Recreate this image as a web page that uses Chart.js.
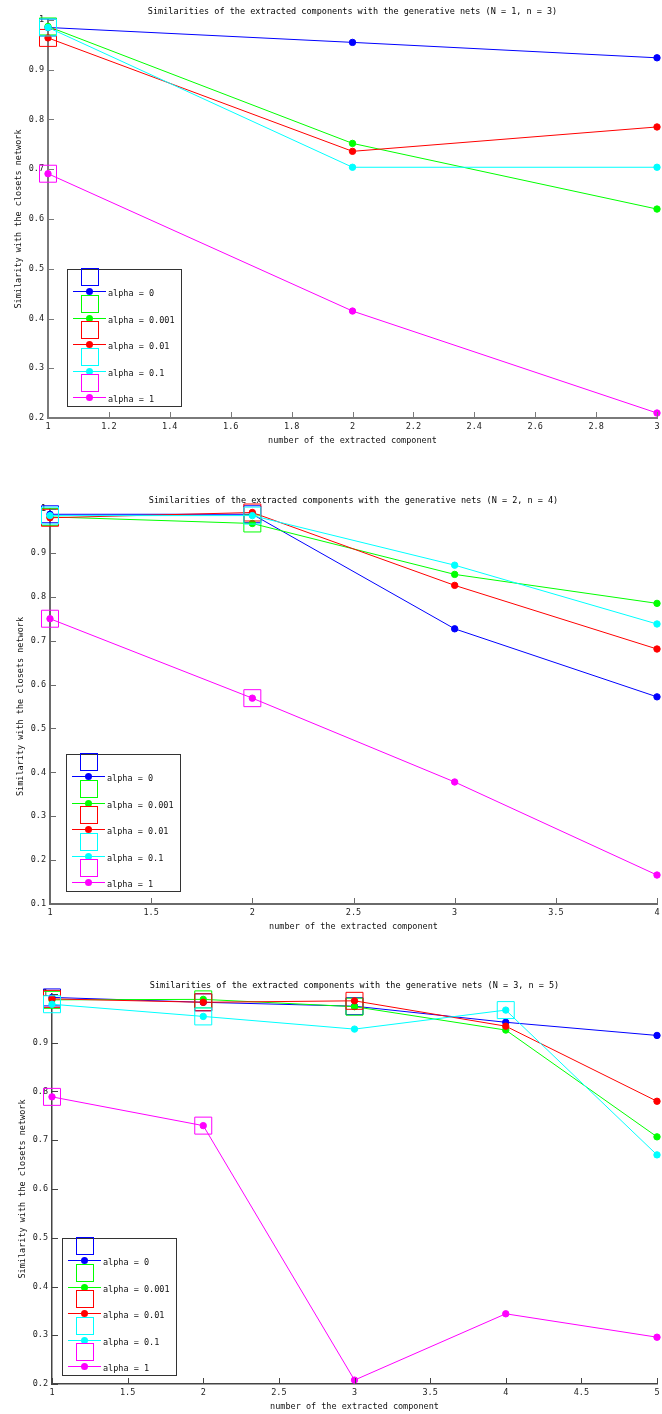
<!DOCTYPE html>
<html>
<head>
<meta charset="utf-8">
<title>Similarities of the extracted components</title>
<script src="https://cdn.jsdelivr.net/npm/chart.js@4.4.0/dist/chart.umd.min.js"></script>
<style>
  html, body { margin: 0; padding: 0; background: #fff; }
  #page { position: relative; width: 662px; height: 1414px; overflow: hidden; }
  .plot { position: absolute; left: 0; width: 670px; }
</style>
</head>
<body>
<div id="page">
  <div class="plot" style="top:0;height:448px"><canvas id="chart1"></canvas></div>
  <div class="plot" style="top:489px;height:445px"><canvas id="chart2"></canvas></div>
  <div class="plot" style="top:974px;height:440px"><canvas id="chart3"></canvas></div>
</div>
<script>
const alphaLabels = ['alpha = 0', 'alpha = 0.001', 'alpha = 0.01', 'alpha = 0.1', 'alpha = 1'];
const alphaColors = ['#0000ff', '#00ff00', '#ff0000', '#00ffff', '#ff00ff'];

// N = 1, n = 3  (one row per alpha)
const comps1 = [1, 2, 3];
const sim1 = [
  [0.985, 0.955, 0.924],
  [0.987, 0.752, 0.620],
  [0.964, 0.736, 0.785],
  [0.985, 0.704, 0.704],
  [0.691, 0.415, 0.210]
];
const picked1 = [[1], [1], [1], [1], [1]];
const xRange1 = [1, 3, 0.2];
const yRange1 = [0.2, 1, 0.1];

// N = 2, n = 4
const comps2 = [1, 2, 3, 4];
const sim2 = [
  [0.988, 0.988, 0.727, 0.572],
  [0.982, 0.967, 0.851, 0.785],
  [0.980, 0.992, 0.826, 0.681],
  [0.985, 0.985, 0.872, 0.738],
  [0.750, 0.569, 0.378, 0.166]
];
const picked2 = [[1, 2], [1, 2], [1, 2], [1, 2], [1, 2]];
const xRange2 = [1, 4, 0.5];
const yRange2 = [0.1, 1, 0.1];

// N = 3, n = 5
const comps3 = [1, 2, 3, 4, 5];
const sim3 = [
  [0.993, 0.983, 0.975, 0.942, 0.915],
  [0.988, 0.989, 0.974, 0.926, 0.707],
  [0.990, 0.983, 0.986, 0.934, 0.780],
  [0.979, 0.954, 0.928, 0.967, 0.670],
  [0.789, 0.730, 0.208, 0.344, 0.296]
];
const picked3 = [[1, 2, 3], [1, 2, 3], [1, 2, 3], [1, 2, 4], [1, 2]];
const xRange3 = [1, 5, 0.5];
const yRange3 = [0.2, 1, 0.1];

const FONT = 'DejaVu Sans Mono';

function fmt(v) {
  return String(Math.round(v * 100) / 100);
}

// matlab style ticks pointing into the plot
function inwardTicks(len, color) {
  return {
    id: 'inwardTicks',
    afterDraw(chart) {
      const { ctx, chartArea: a, scales: { x, y } } = chart;
      ctx.save();
      ctx.strokeStyle = color;
      ctx.lineWidth = 1;
      ctx.beginPath();
      x.ticks.forEach(t => {
        const px = Math.round(x.getPixelForValue(t.value)) + 0.5;
        ctx.moveTo(px, a.bottom);
        ctx.lineTo(px, a.bottom - len);
      });
      y.ticks.forEach(t => {
        const py = Math.round(y.getPixelForValue(t.value)) + 0.5;
        ctx.moveTo(a.left, py);
        ctx.lineTo(a.left + len, py);
      });
      ctx.stroke();
      ctx.restore();
    }
  };
}

function boxLegend(pos) {
  return {
    id: 'boxLegend',
    afterDraw(chart) {
      const { ctx, chartArea: a } = chart;
      const w = 114, h = 137;
      const left = Math.round(a.left + pos.left);
      const top = Math.round(a.bottom - pos.bottom - h);
      ctx.save();
      ctx.fillStyle = '#fff';
      ctx.fillRect(left + 0.5, top + 0.5, w, h);
      ctx.strokeStyle = '#333';
      ctx.lineWidth = 1;
      ctx.strokeRect(left + 0.5, top + 0.5, w, h);
      ctx.font = '8.5px "' + FONT + '"';
      ctx.textBaseline = 'middle';
      alphaLabels.forEach((label, i) => {
        const c = alphaColors[i];
        const sq = Math.round(top - 1 + i * 26.6) + 0.5;
        const ly = Math.round(top + 22 + i * 26.6) + 0.5;
        ctx.strokeStyle = c;
        ctx.strokeRect(left + 14.5, sq, 17, 17);
        ctx.beginPath();
        ctx.moveTo(left + 6, ly);
        ctx.lineTo(left + 39, ly);
        ctx.stroke();
        ctx.fillStyle = c;
        ctx.beginPath();
        ctx.arc(left + 22.5, ly, 3.5, 0, Math.PI * 2);
        ctx.fill();
        ctx.fillStyle = '#111';
        ctx.fillText(label, left + 41, ly + 2);
      });
      ctx.restore();
    }
  };
}

function makeChart(id, titleText, comps, sim, picked, xRange, yRange, look) {
  const datasets = [];
  let order = 100;
  sim.forEach((row, k) => {
    const c = alphaColors[k];
    datasets.push({
      label: '',
      data: picked[k].map(p => ({ x: p, y: row[comps.indexOf(p)] })),
      showLine: false,
      pointStyle: 'rect',
      pointRadius: 12,
      pointBorderWidth: 1,
      pointBorderColor: c,
      pointBackgroundColor: 'rgba(0,0,0,0)',
      clip: false,
      order: order--
    });
    datasets.push({
      label: alphaLabels[k],
      data: comps.map((x, i) => ({ x: x, y: row[i] })),
      showLine: true,
      borderColor: c,
      borderWidth: 1,
      pointRadius: 3.2,
      pointBorderWidth: 1,
      pointBorderColor: c,
      pointBackgroundColor: c,
      clip: false,
      order: order--
    });
  });

  const tickFont = { family: FONT, size: 8.5 };

  new Chart(document.getElementById(id), {
    type: 'scatter',
    data: { datasets: datasets },
    options: {
      responsive: true,
      maintainAspectRatio: false,
      animation: false,
      events: [],
      layout: { padding: { left: 0, right: 8, top: 0, bottom: 0 } },
      plugins: {
        legend: { display: false },
        tooltip: { enabled: false },
        title: {
          display: true,
          text: titleText,
          fullSize: false,
          color: '#000',
          font: { family: FONT, size: 8.5, weight: 'normal' },
          padding: { top: 6.4, bottom: 3.4 }
        }
      },
      scales: {
        x: {
          type: 'linear',
          min: xRange[0],
          max: xRange[1],
          afterFit: s => { s.height = 30; },
          grid: { drawOnChartArea: false, drawTicks: false },
          border: { display: true, color: look.axis, width: look.axisWidth },
          ticks: {
            stepSize: xRange[2],
            autoSkip: false,
            maxRotation: 0,
            padding: 4,
            color: '#222',
            font: tickFont,
            callback: v => fmt(v)
          },
          title: {
            display: true,
            text: 'number of the extracted component',
            color: '#111',
            font: tickFont,
            padding: { top: 0, bottom: 2 }
          }
        },
        y: {
          type: 'linear',
          min: yRange[0],
          max: yRange[1],
          afterFit: s => { s.width = look.left; },
          grid: { drawOnChartArea: false, drawTicks: false },
          border: { display: true, color: look.axis, width: look.axisWidth },
          ticks: {
            stepSize: yRange[2],
            autoSkip: false,
            padding: 4,
            color: '#222',
            font: tickFont,
            callback: v => fmt(v)
          },
          title: {
            display: true,
            text: 'Similarity with the closets network',
            color: '#111',
            font: tickFont,
            padding: { top: look.yTitlePad, bottom: 0 }
          }
        }
      }
    },
    plugins: [inwardTicks(6, look.axis), boxLegend(look.legend)]
  });
}

makeChart('chart1', 'Similarities of the extracted components with the generative nets (N = 1, n = 3)',
  comps1, sim1, picked1, xRange1, yRange1,
  { left: 48, axis: '#7a7a7a', axisWidth: 2, yTitlePad: 14, legend: { left: 19, bottom: 12 } });

makeChart('chart2', 'Similarities of the extracted components with the generative nets (N = 2, n = 4)',
  comps2, sim2, picked2, xRange2, yRange2,
  { left: 50, axis: '#6a6a6a', axisWidth: 2, yTitlePad: 15.5, legend: { left: 16, bottom: 13 } });

makeChart('chart3', 'Similarities of the extracted components with the generative nets (N = 3, n = 5)',
  comps3, sim3, picked3, xRange3, yRange3,
  { left: 52, axis: '#444', axisWidth: 1.5, yTitlePad: 18, legend: { left: 10, bottom: 9 } });
</script>
</body>
</html>
